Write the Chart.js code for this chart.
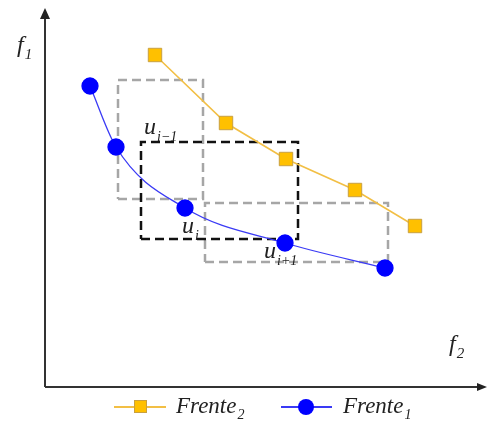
<!DOCTYPE html>
<html><head><meta charset="utf-8">
<script src="https://cdn.jsdelivr.net/npm/chart.js@4.4.0/dist/chart.umd.min.js"></script>
<style>html,body{margin:0;padding:0;background:#fff;}#wrap{width:487px;height:422px;}</style>
</head><body><div id="wrap"><canvas id="c" width="487" height="422"></canvas></div>
<script>
// Data (abstract objective units)
const frente2X = [110, 181, 241, 310, 370];
const frente2Y = [332, 264, 228, 197, 161];
const frente1X = [45, 71, 140, 240, 340];
const frente1Y = [301, 240, 179, 144, 119];
// dashed boxes: [xmin, xmax, ymin, ymax]
const boxGray1 = [73, 158, 188, 307];
const boxGray2 = [160, 343, 125, 184];
const boxBlack = [96, 253, 148, 245];
// annotation labels
const labelNames = ['u', 'u', 'u'];
const labelSubs = ['i−1', 'i', 'i+1'];
const labelX = [99, 137, 219];
const labelY = [253, 154, 129];
const axisX = [0, 440];
const axisY = [0, 377];

function pts(xs, ys){ return xs.map((x,i)=>({x:x, y:ys[i]})); }
function box(b){ return [{x:b[0],y:b[2]},{x:b[1],y:b[2]},{x:b[1],y:b[3]},{x:b[0],y:b[3]},{x:b[0],y:b[2]}]; }

const FONT = '"Liberation Serif", serif';
function subText(ctx, base, sub, x, y, size, subSize){
  ctx.font = 'italic ' + size + 'px ' + FONT;
  ctx.fillText(base, x, y);
  const w = ctx.measureText(base).width;
  ctx.font = 'italic ' + subSize + 'px ' + FONT;
  ctx.fillText(sub, x + w + 1, y + size*0.28);
}

const annot = {
  id: 'annot',
  afterDraw(chart){
    const ctx = chart.ctx, xs = chart.scales.x, ys = chart.scales.y;
    ctx.save();
    const x0 = xs.getPixelForValue(axisX[0]), x1 = xs.getPixelForValue(axisX[1]);
    const y0 = ys.getPixelForValue(axisY[0]), y1 = ys.getPixelForValue(axisY[1]);
    ctx.strokeStyle = '#333'; ctx.fillStyle = '#222'; ctx.lineWidth = 2;
    ctx.beginPath(); ctx.moveTo(x0, y0); ctx.lineTo(x0, y1 + 6); ctx.stroke();
    ctx.beginPath(); ctx.moveTo(x0, y0); ctx.lineTo(x1 - 4, y0); ctx.stroke();
    ctx.beginPath(); ctx.moveTo(x0, y1 - 2); ctx.lineTo(x0 - 5, y1 + 9); ctx.lineTo(x0 + 5, y1 + 9); ctx.closePath(); ctx.fill();
    ctx.beginPath(); ctx.moveTo(x1 + 2, y0); ctx.lineTo(x1 - 8, y0 - 4); ctx.lineTo(x1 - 8, y0 + 4); ctx.closePath(); ctx.fill();
    ctx.fillStyle = '#222'; ctx.textBaseline = 'alphabetic'; ctx.textAlign = 'left';
    subText(ctx, 'f', '1', 17, 52, 24, 15);
    subText(ctx, 'f', '2', 449, 351, 24, 15);
    for (let i = 0; i < labelNames.length; i++){
      const px = xs.getPixelForValue(labelX[i]), py = ys.getPixelForValue(labelY[i]);
      subText(ctx, labelNames[i], labelSubs[i], px, py, 24, 14);
    }
    const ly = 407;
    const d2 = chart.data.datasets[0], d1 = chart.data.datasets[1];
    ctx.lineWidth = 2; ctx.strokeStyle = d2.borderColor;
    ctx.beginPath(); ctx.moveTo(114, ly); ctx.lineTo(166, ly); ctx.stroke();
    ctx.fillStyle = d2.pointBackgroundColor; ctx.strokeStyle = d2.pointBorderColor; ctx.lineWidth = 1;
    ctx.fillRect(134, ly - 7, 13, 13); ctx.strokeRect(134.5, ly - 6.5, 12, 12);
    ctx.fillStyle = '#222';
    subText(ctx, 'Frente', '2', 176, ly + 6, 23, 14);
    ctx.strokeStyle = d1.borderColor; ctx.lineWidth = 2;
    ctx.beginPath(); ctx.moveTo(281, ly); ctx.lineTo(332, ly); ctx.stroke();
    ctx.fillStyle = d1.pointBackgroundColor;
    ctx.beginPath(); ctx.arc(306, ly, 8, 0, Math.PI*2); ctx.fill();
    ctx.fillStyle = '#222';
    subText(ctx, 'Frente', '1', 343, ly + 6, 23, 14);
    ctx.restore();
  }
};

new Chart(document.getElementById('c'), {
  type: 'scatter',
  data: { datasets: [
    { label: 'Frente₂', data: pts(frente2X, frente2Y), showLine: true, borderColor: '#F2BF45', borderWidth: 1.6,
      pointStyle: 'rect', pointRadius: 9.5, pointBackgroundColor: '#FFC000', pointBorderColor: '#C8A040', pointBorderWidth: 1, order: 1 },
    { label: 'Frente₁', data: pts(frente1X, frente1Y), showLine: true, borderColor: '#3A3AF5', borderWidth: 1.3,
      cubicInterpolationMode: 'monotone', pointStyle: 'circle', pointRadius: 8, pointBackgroundColor: '#0000FF', pointBorderColor: '#0000FF', order: 2 },
    { label: 'g1', data: box(boxGray1), showLine: true, borderColor: '#A6A6A6', borderWidth: 2.5, borderDash: [9, 5], pointRadius: 0, order: 5 },
    { label: 'g2', data: box(boxGray2), showLine: true, borderColor: '#A6A6A6', borderWidth: 2.5, borderDash: [9, 5], pointRadius: 0, order: 5 },
    { label: 'b', data: box(boxBlack), showLine: true, borderColor: '#111111', borderWidth: 2.5, borderDash: [9, 5], pointRadius: 0, order: 4 }
  ]},
  plugins: [annot],
  options: {
    responsive: false, animation: false,
    layout: { autoPadding: false, padding: { left: 45, top: 10, right: 2, bottom: 35 } },
    scales: {
      x: { type: 'linear', display: false, min: axisX[0], max: axisX[1] },
      y: { type: 'linear', display: false, min: axisY[0], max: axisY[1] }
    },
    plugins: { legend: { display: false }, tooltip: { enabled: false } },
    clip: false
  }
});
</script></body></html>
